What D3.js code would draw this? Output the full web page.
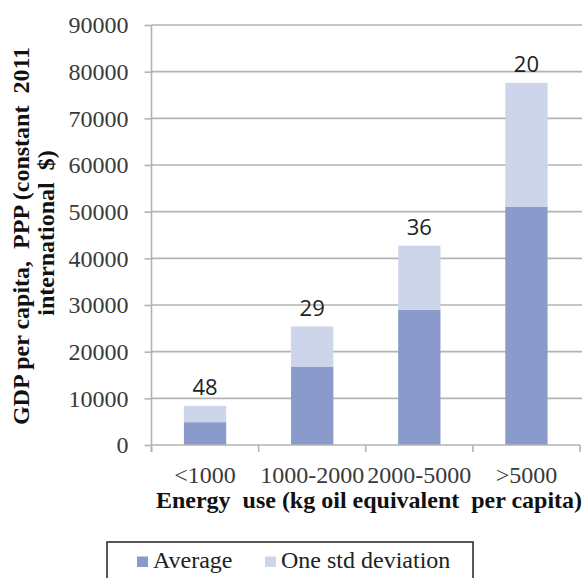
<!DOCTYPE html>
<html>
<head>
<meta charset="utf-8">
<script src="https://cdn.jsdelivr.net/npm/d3@7"></script>
<style>
  html, body { margin: 0; padding: 0; background: #fff; }
  svg text { white-space: pre; }
</style>
</head>
<body>
<svg id="chart" width="583" height="578"></svg>
<script>
const categories = ["<1000", "1000-2000", "2000-5000", ">5000"];
const average = [4900, 16800, 29000, 51000];
const stdDev = [3500, 8600, 13700, 26600];
const counts = [48, 29, 36, 20];
const yTicks = [0, 10000, 20000, 30000, 40000, 50000, 60000, 70000, 80000, 90000];
const seriesNames = ["Average", "One std deviation"];
const colors = ["#8a9bcb", "#cdd5ea"];

const svg = d3.select("#chart");
const plotLeft = 151.5, plotRight = 580, plotTop = 25, plotBottom = 445;

const x = d3.scaleBand().domain(categories).range([plotLeft, plotRight]).padding(0);
const y = d3.scaleLinear().domain([0, 90000]).range([plotBottom, plotTop]);

const serif = "'Liberation Serif', 'Times New Roman', serif";

// gridlines
svg.append("g").selectAll("line").data(yTicks.slice(1)).join("line")
  .attr("x1", plotLeft).attr("x2", 582)
  .attr("y1", d => y(d)).attr("y2", d => y(d))
  .attr("stroke", "#b3b3b3").attr("stroke-width", 1.6);

// y axis
const yAxis = svg.append("g").attr("transform", `translate(${plotLeft},0)`)
  .call(d3.axisLeft(y).tickValues(yTicks).tickSize(7).tickPadding(16).tickFormat(d3.format("d")));
yAxis.select(".domain").attr("stroke", "#b3b3b3").attr("stroke-width", 1.6)
  .attr("d", `M0,${plotTop}V${plotBottom + 7}`);
yAxis.selectAll(".tick line").attr("stroke", "#b3b3b3").attr("stroke-width", 1.6);
yAxis.selectAll(".tick text").attr("font-family", serif).attr("font-size", 24)
  .attr("fill", "#3a3a3a").attr("dy", "0.33em");

// bars
const bw = x.bandwidth() * 0.395;
const g = svg.append("g");
g.selectAll("rect.avg").data(categories).join("rect").attr("class", "avg")
  .attr("x", d => x(d) + x.bandwidth() / 2 - bw / 2)
  .attr("width", bw)
  .attr("y", (d, i) => y(average[i]))
  .attr("height", (d, i) => y(0) - y(average[i]))
  .attr("fill", colors[0]);
g.selectAll("rect.sd").data(categories).join("rect").attr("class", "sd")
  .attr("x", d => x(d) + x.bandwidth() / 2 - bw / 2)
  .attr("width", bw)
  .attr("y", (d, i) => y(average[i] + stdDev[i]))
  .attr("height", (d, i) => y(average[i]) - y(average[i] + stdDev[i]))
  .attr("fill", colors[1]);

// count labels
g.selectAll("text.cnt").data(categories).join("text").attr("class", "cnt")
  .attr("x", d => x(d) + x.bandwidth() / 2)
  .attr("y", (d, i) => y(average[i] + stdDev[i]) - 10.5)
  .attr("text-anchor", "middle")
  .attr("font-family", "'Open Sans', sans-serif").attr("font-size", 22)
  .attr("fill", "#222")
  .text((d, i) => counts[i]);

// x axis
const xAxis = svg.append("g").attr("transform", `translate(0,${plotBottom})`)
  .call(d3.axisBottom(x).tickSize(0).tickPadding(0));
xAxis.select(".domain").remove();
xAxis.append("line").attr("x1", plotLeft).attr("x2", plotRight).attr("y1", 0).attr("y2", 0)
  .attr("stroke", "#b3b3b3").attr("stroke-width", 1.6);
const edges = categories.map(c => x(c)).concat([plotRight]);
xAxis.selectAll("line.edge").data(edges).join("line").attr("class", "edge")
  .attr("x1", d => d).attr("x2", d => d).attr("y1", 0).attr("y2", 7)
  .attr("stroke", "#b3b3b3").attr("stroke-width", 1.6);
xAxis.selectAll(".tick text").attr("font-family", serif).attr("font-size", 24)
  .attr("fill", "#3a3a3a").attr("dy", 0).attr("y", 38);

// axis titles
svg.append("text").attr("x", 369).attr("y", 508).attr("text-anchor", "middle")
  .attr("font-family", serif).attr("font-size", 24).attr("font-weight", "bold")
  .attr("fill", "#111")
  .text("Energy  use (kg oil equivalent  per capita)");

const yt = svg.append("text").attr("transform", "rotate(-90)")
  .attr("text-anchor", "middle")
  .attr("font-family", serif).attr("font-size", 24).attr("font-weight", "bold")
  .attr("fill", "#111");
yt.append("tspan").attr("x", -236).attr("y", 29).text("GDP per capita,  PPP (constant  2011");
yt.append("tspan").attr("x", -233).attr("y", 54).text("international  $)");

// legend
const lg = svg.append("g");
lg.append("rect").attr("x", 107).attr("y", 542).attr("width", 366).attr("height", 50)
  .attr("fill", "#fff").attr("stroke", "#222").attr("stroke-width", 1.5);
const legX = [137, 265];
seriesNames.forEach((name, i) => {
  lg.append("rect").attr("x", legX[i]).attr("y", 556.5).attr("width", 11).attr("height", 10.5)
    .attr("fill", colors[i]);
  lg.append("text").attr("x", legX[i] + 16).attr("y", 568)
    .attr("font-family", serif).attr("font-size", 24).attr("fill", "#222")
    .text(name);
});
</script>
</body>
</html>
